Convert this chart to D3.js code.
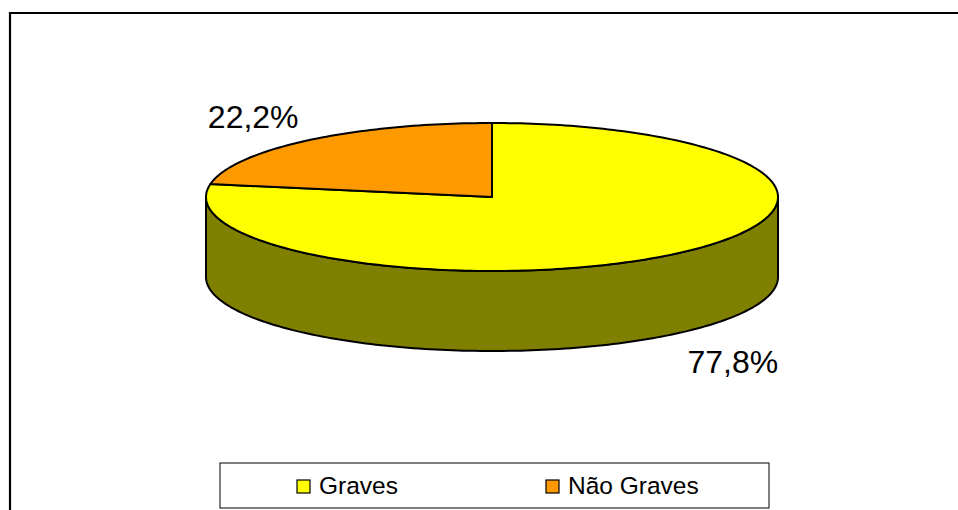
<!DOCTYPE html>
<html>
<head>
<meta charset="utf-8">
<script src="https://cdn.jsdelivr.net/npm/d3@7"></script>
<style>
  html, body { margin: 0; padding: 0; background: #fff; }
  svg { display: block; font-family: "Liberation Sans", Arial, sans-serif; }
</style>
</head>
<body>
<div id="chart"></div>
<script>
// Data
const categories = ['Graves', 'Não Graves'];
const values = [77.8, 22.2];
const labels = ['77,8%', '22,2%'];
const colors = ['#ffff00', '#ff9900'];
const sideColors = ['#808000', '#805000'];

const W = 958, H = 510;
const svg = d3.select('#chart').append('svg')
    .attr('width', W)
    .attr('height', H);

// Chart frame (right and bottom edges run off the picture)
svg.append('path')
    .attr('d', `M10,${H + 5}V13H${W + 5}`)
    .attr('fill', 'none')
    .attr('stroke', '#000')
    .attr('stroke-width', 2.2);

// Pie geometry (ellipse for the 3D tilt)
const cx = 492, cy = 197, rx = 286, ry = 74, depth = 80;

// Angle scale: clockwise from 12 o'clock, in radians
const pie = d3.pie().sort(null).value(d => d)
    .startAngle(0).endAngle(2 * Math.PI);
const arcs = pie(values);

const px = a => cx + rx * Math.sin(a);
const py = a => cy - ry * Math.cos(a);

const line = d3.line();
function arcPoints(a0, a1, dy) {
    const n = Math.max(2, Math.ceil(Math.abs(a1 - a0) / 0.02));
    return d3.range(n + 1).map(i => {
        const a = a0 + (a1 - a0) * i / n;
        return [px(a), py(a) + dy];
    });
}

// Front walls (visible part between 90deg and 270deg)
arcs.forEach((d, i) => {
    const a0 = Math.max(d.startAngle, Math.PI / 2);
    const a1 = Math.min(d.endAngle, 3 * Math.PI / 2);
    if (a1 <= a0) return;
    const pts = arcPoints(a0, a1, 0).concat(arcPoints(a1, a0, depth));
    svg.append('path')
        .attr('d', line(pts) + 'Z')
        .attr('fill', sideColors[i])
        .attr('stroke', '#000')
        .attr('stroke-width', 2)
        .attr('stroke-linejoin', 'round');
});

// Top faces
arcs.forEach((d, i) => {
    const pts = [[cx, cy]].concat(arcPoints(d.startAngle, d.endAngle, 0));
    svg.append('path')
        .attr('d', line(pts) + 'Z')
        .attr('fill', colors[i])
        .attr('stroke', '#000')
        .attr('stroke-width', 2)
        .attr('stroke-linejoin', 'round');
});

// Data labels, placed out from the slice middle
const labelNudge = [[2, 94], [0, -4]];
arcs.forEach((d, i) => {
    const mid = (d.startAngle + d.endAngle) / 2;
    svg.append('text')
        .attr('x', cx + rx * 1.3 * Math.sin(mid) + labelNudge[i][0])
        .attr('y', cy - ry * 1.3 * Math.cos(mid) + labelNudge[i][1])
        .attr('text-anchor', 'middle')
        .attr('dominant-baseline', 'middle')
        .style('font-size', '32px')
        .style('fill', '#000')
        .text(labels[i]);
});

// Legend
const legend = svg.append('g').attr('transform', 'translate(220,463)');
legend.append('rect')
    .attr('width', 549)
    .attr('height', 45)
    .attr('fill', '#fff')
    .attr('stroke', '#000')
    .attr('stroke-width', 1);

const legendX = d3.scalePoint().domain(categories).range([77, 326]);
categories.forEach((c, i) => {
    const g = legend.append('g').attr('transform', `translate(${legendX(c)},0)`);
    g.append('rect')
        .attr('x', 0)
        .attr('y', 17)
        .attr('width', 13)
        .attr('height', 13)
        .attr('fill', colors[i])
        .attr('stroke', '#000')
        .attr('stroke-width', 1.2);
    g.append('text')
        .attr('x', 22)
        .attr('y', 31)
        .style('font-size', '24.5px')
        .style('fill', '#000')
        .text(c);
});
</script>
</body>
</html>
